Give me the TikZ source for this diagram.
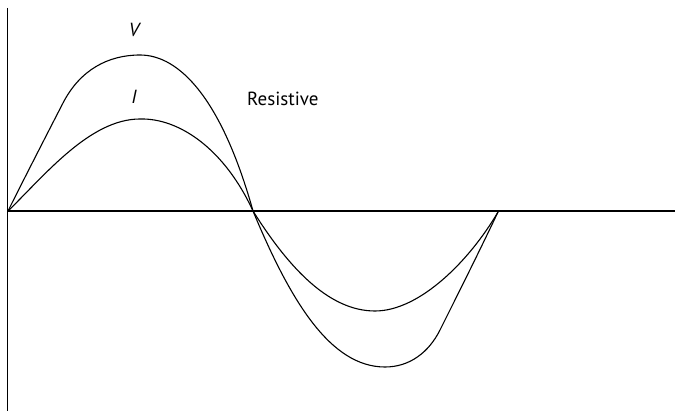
\documentclass[tikz,border=0pt]{standalone}
\usepackage{fontspec}
\setmainfont{PT Sans}
\begin{document}
\begin{tikzpicture}[x=1pt,y=-1pt,
  axis/.style={line width=1.3pt},
  wave/.style={line width=1.1pt},
  lbl/.style={inner sep=0pt,font=\fontsize{19}{22}\selectfont}]
\useasboundingbox (0,0) rectangle (675,411);
\draw[axis] (7.5,8) -- (7.5,411);
\draw[axis] (7,211) -- (675,211);
% V curve
\draw[wave] (8,211) .. controls (26,175) and (45,138) .. (63,103)
  .. controls (80,70) and (108,55) .. (140,55)
  .. controls (180,55) and (222,100) .. (253,211)
  .. controls (290,300) and (330,367) .. (385,367)
  .. controls (410,367) and (429,352) .. (440,330)
  .. controls (460,290) and (480,250) .. (498,212);
% I curve
\draw[wave] (8,211) .. controls (45,175) and (90,119) .. (140,119)
  .. controls (180,118) and (225,150) .. (253,211)
  .. controls (290,270) and (330,311) .. (375,311)
  .. controls (420,311) and (470,260) .. (498,212);
\node[lbl] (v) at (134,30) {\itshape V};
\node[lbl] (i) at (134,97) {\itshape I};
\node[lbl,anchor=west] (r) at (247,99) {Resistive};
\end{tikzpicture}
\end{document}
